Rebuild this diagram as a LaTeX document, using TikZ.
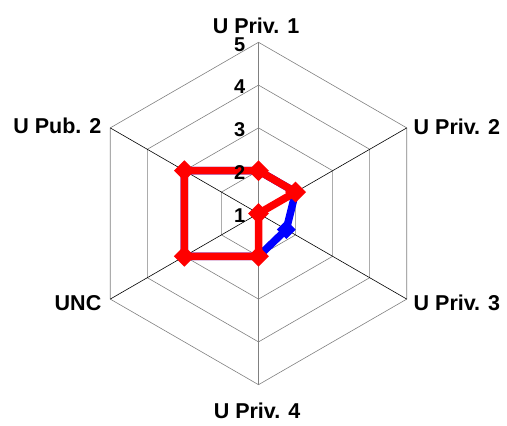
\documentclass[tikz,border=0pt]{standalone}
\usepackage{fontspec}
\setmainfont{Liberation Sans}
\usepackage{tikz}
\usetikzlibrary{calc}
\usetikzlibrary{shapes.geometric}

\begin{document}
\begin{tikzpicture}[x=1pt,y=1pt,
		ring/.style={gray,line width=0.6pt},
		spoke/.style={black,line width=0.6pt},
		mainspoke/.style={gray,line width=1.4pt},
		axislabel/.style={font=\fontsize{21.5}{24}\selectfont\bfseries,inner sep=0pt},
		ticklabel/.style={font=\fontsize{20}{22}\selectfont\bfseries,inner sep=0pt,anchor=east},
		seriesA/.style={blue,line width=7.5pt,line join=miter},
		seriesB/.style={red,line width=7.5pt,line join=miter},
		markA/.style={diamond,fill=blue,inner sep=0pt,minimum size=19pt},
		markB/.style={diamond,fill=red,inner sep=0pt,minimum size=21pt}]
		\useasboundingbox (0,0) rectangle (507,426);
		\coordinate (O) at (258.5,212.5);
		\def\lev{42.8}
		\begin{scope}[shift={(O)}]
			% rings and spokes
			\foreach \k in {1,...,4}
			\draw[ring] (90:{\k*\lev}) \foreach \a in {30,-30,-90,210,150} { -- (\a:{\k*\lev}) } -- cycle;
			\foreach \a in {30,-30,210,150}
			\draw[spoke] (0,0) -- (\a:{4*\lev});
			\draw[mainspoke] (-90:{4*\lev}) -- (90:{4*\lev});
			% series
			\draw[seriesA] (90:{1*\lev}) -- (30:{1*\lev}) -- (-30:{0.75*\lev}) -- (-90:{1*\lev}) -- (210:{2*\lev}) -- (150:{2*\lev}) -- cycle;
			\foreach \a/\v [count=\i] in {90/1,30/1,-30/0.75,-90/1,210/2,150/2}
			\node[markA] (a\i) at (\a:{\v*\lev}) {};
			\draw[seriesB] (90:{1*\lev}) -- (30:{1*\lev}) -- (0,0) -- (-90:{1*\lev}) -- (210:{2*\lev}) -- (150:{2*\lev}) -- cycle;
			\foreach \a/\v [count=\i] in {90/1,30/1,-30/0,-90/1,210/2,150/2}
			\node[markB] (b\i) at (\a:{\v*\lev}) {};
		\end{scope}
		% scale numbers
		\foreach \k in {1,...,5}
		\node[ticklabel] (t\k) at ($(O)+(-13,{(\k-1)*\lev-2})$) {\k};
		% axis names
		\node[axislabel,anchor=base] (l1) at (256,392) {U Priv. 1};
		\node[axislabel,anchor=base west] (l2) at (413.5,291) {U Priv. 2};
		\node[axislabel,anchor=base west] (l3) at (413.5,115.3) {U Priv. 3};
		\node[axislabel,anchor=base] (l4) at (257,7.7) {U Priv. 4};
		\node[axislabel,anchor=base east] (l5) at (101.5,115.3) {UNC};
		\node[axislabel,anchor=base east] (l6) at (101.5,292) {U Pub. 2};
	\end{tikzpicture}
\end{document}
